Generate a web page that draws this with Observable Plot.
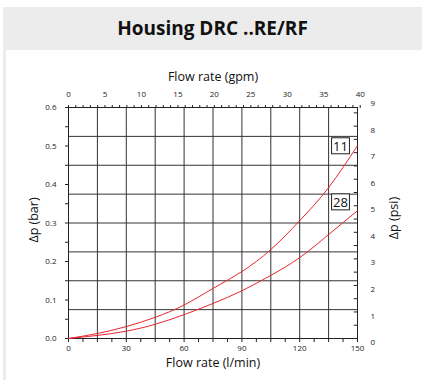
<!DOCTYPE html>
<html><head><meta charset="utf-8">
<script src="https://cdn.jsdelivr.net/npm/d3@7"></script>
<script src="https://cdn.jsdelivr.net/npm/@observablehq/plot@0.6"></script>
<style>
html,body{margin:0;padding:0;background:#fff;width:422px;height:380px;overflow:hidden;font-family:"Open Sans",sans-serif;}
#outer{position:absolute;left:3px;top:7px;width:419px;height:373px;background:#ececec;}
#title{position:absolute;left:0;top:0;width:419px;height:43px;line-height:43px;text-align:center;font-weight:bold;font-size:19px;color:#111;}
#panel{position:absolute;left:6px;top:50px;width:416px;height:330px;background:#fff;}
#panel svg{position:absolute;left:0;top:0;}
</style></head><body>
<div id="outer"><div id="title">Housing DRC ..RE/RF</div></div>
<div id="panel"></div>
<script>
const flow = [0, 15, 30, 45, 60, 75, 90, 105, 120, 135, 150];
const dp11 = [0, 0.013, 0.031, 0.055, 0.087, 0.13, 0.174, 0.231, 0.306, 0.392, 0.501];
const dp28 = [0, 0.008, 0.019, 0.037, 0.062, 0.091, 0.124, 0.164, 0.21, 0.27, 0.332];
const seriesNames = ["11", "28"];
const xTicks = d3.range(0, 150.01, 7.5);
const xLabels = [0, 30, 60, 90, 120, 150];
const yTicks = d3.range(0, 0.601, 0.05);
const yLabels = [0, 0.1, 0.2, 0.3, 0.4, 0.5, 0.6];
const gridX = d3.range(15, 149, 15);
const gridY = d3.range(0.075, 0.59, 0.075);
const gpmTicks = d3.range(0, 41, 1);
const psiTicks = d3.range(0, 9.01, 0.5);
const GPM = 3.78541, PSI = 0.0689476;

const rows = [];
flow.forEach((f, i) => { rows.push({s: "11", q: f, p: dp11[i]}); rows.push({s: "28", q: f, p: dp28[i]}); });
const end11 = [{s: seriesNames[0], q: 150, p: dp11[dp11.length-1]}];
const end28 = [{s: seriesNames[1], q: 150, p: dp28[dp28.length-1]}];

const red = "#e8262d", gridC = "#333";
const chart = Plot.plot({
  width: 416, height: 330,
  marginLeft: 62, marginRight: 65, marginTop: 57, marginBottom: 42,
  style: {fontFamily: "Open Sans, sans-serif", fontSize: "8px", color: "#222", background: "transparent"},
  x: {domain: [0, 150]},
  y: {domain: [0, 0.6]},
  marks: [
    Plot.ruleX(gridX, {stroke: gridC, strokeWidth: 1}),
    Plot.ruleY(gridY, {stroke: gridC, strokeWidth: 1}),
    Plot.frame({stroke: "#222"}),
    Plot.axisX(xTicks, {anchor: "bottom", tickSize: 4, tickPadding: 3, label: null,
      tickFormat: d => xLabels.includes(d) ? String(d) : ""}),
    Plot.axisX(gpmTicks.map(g => g * GPM), {anchor: "top", tickSize: 3, tickPadding: 8, label: null,
      tickFormat: d => { const g = Math.round(d / GPM); return g % 5 === 0 ? String(g) : ""; }}),
    Plot.axisY(yTicks, {anchor: "left", tickSize: 3, tickPadding: 9, label: null,
      tickFormat: d => yLabels.some(v => Math.abs(v - d) < 1e-9) ? d.toFixed(1) : ""}),
    Plot.axisY(psiTicks.map(p => p * PSI), {anchor: "right", tickSize: 0, tickPadding: 13, label: null, dy: 4,
      tickFormat: d => { const p = d / PSI; return Math.abs(p - Math.round(p)) < 1e-6 ? String(Math.round(p)) : ""; }}),
    Plot.ruleY(psiTicks.slice(0, -1), {y: d => d * PSI, x1: 148.3, x2: 150, stroke: "#222"}),
    Plot.line(rows, {x: "q", y: "p", z: "s", stroke: red, strokeWidth: 1, curve: "natural"}),
    Plot.text(end11, {x: "q", y: "p", text: "s", dx: -17, dy: 1, fontSize: 13, fill: "#111", className: "boxlab"}),
    Plot.text(end28, {x: "q", y: "p", text: "s", dx: -17, dy: -8, fontSize: 13, fill: "#111", className: "boxlab"}),
    Plot.text(["Flow rate (gpm)"], {frameAnchor: "top", dy: -35, fontSize: 12.5, fill: "#111"}),
    Plot.text(["Flow rate (l/min)"], {frameAnchor: "bottom", dy: 28, fontSize: 12.5, fill: "#111"}),
    Plot.text(["Δp (bar)"], {frameAnchor: "left", textAnchor: "middle", dx: -35, dy: -3, rotate: -90, fontSize: 12.5, fill: "#111"}),
    Plot.text(["Δp (psi)"], {frameAnchor: "right", textAnchor: "middle", dx: 36, dy: -5, rotate: -90, fontSize: 12.5, fill: "#111"})
  ]
});
document.getElementById("panel").appendChild(chart);
// draw boxes around series labels
chart.querySelectorAll("g.boxlab text").forEach(t => {
  const b = t.getBBox();
  const r = document.createElementNS("http://www.w3.org/2000/svg", "rect");
  r.setAttribute("x", b.x - 1.5); r.setAttribute("y", b.y + 1);
  r.setAttribute("width", b.width + 3); r.setAttribute("height", b.height - 2);
  r.setAttribute("fill", "white"); r.setAttribute("stroke", "#222"); r.setAttribute("stroke-width", 1);
  if (t.getAttribute("transform")) r.setAttribute("transform", t.getAttribute("transform"));
  t.parentNode.insertBefore(r, t);
});
</script></body></html>
